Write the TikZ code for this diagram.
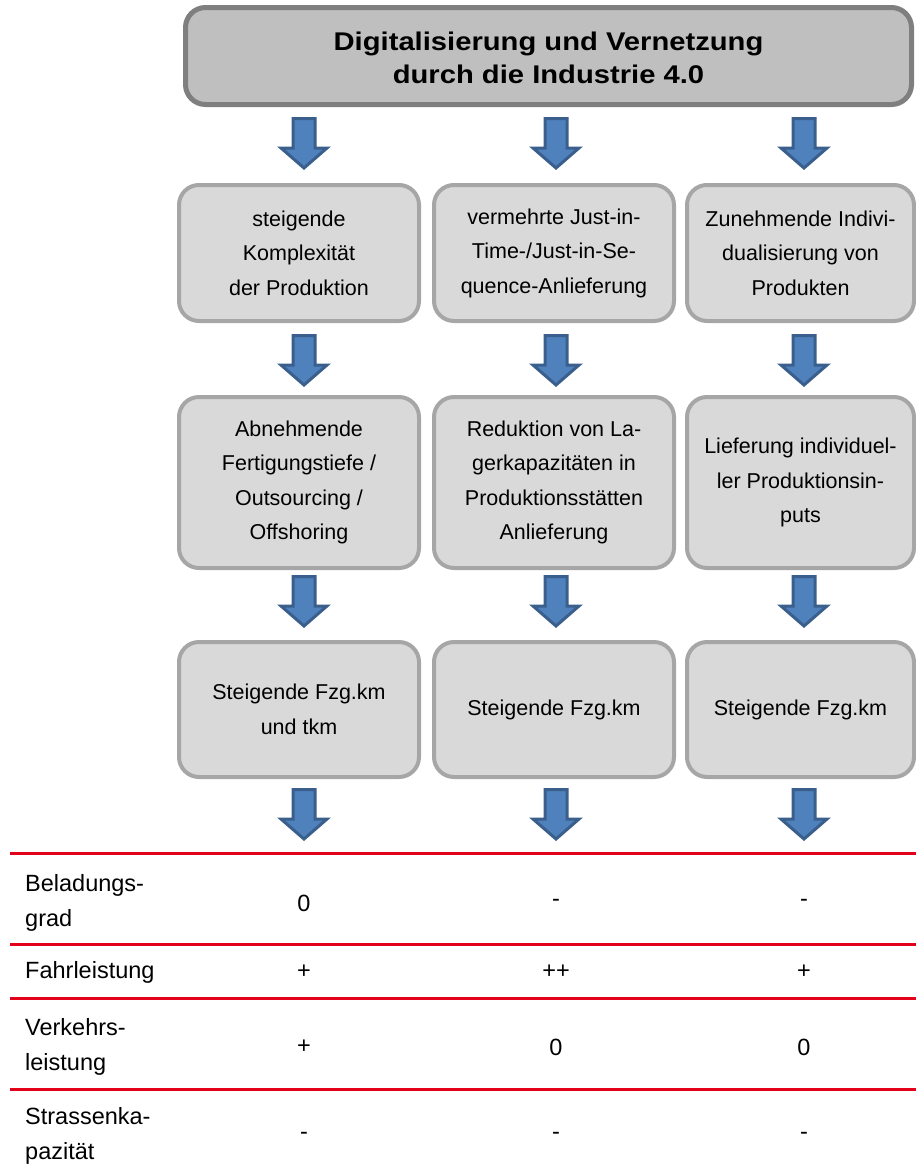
\documentclass[tikz,border=0pt]{standalone}
\usepackage{fontspec}
\setmainfont{Liberation Sans}
\usepackage{graphicx}
\definecolor{boxfill}{HTML}{D9D9D9}
\definecolor{boxline}{HTML}{A6A6A6}
\definecolor{topfill}{HTML}{BFBFBF}
\definecolor{topline}{HTML}{7F7F7F}
\definecolor{arrfill}{HTML}{4F81BD}
\definecolor{arrline}{HTML}{3A5F8C}
\definecolor{rulered}{HTML}{E2001A}
\tikzset{
  stepbox/.style={draw=boxline, fill=boxfill, line width=4pt, rounded corners=20pt,
    align=center, font=\fontsize{21.5}{34.5}\selectfont, inner sep=0pt},
  topbox/.style={draw=topline, fill=topfill, line width=5pt, rounded corners=20pt,
    align=center, font=\bfseries\fontsize{25.6}{33}\selectfont, inner sep=0pt},
  rowlabel/.style={anchor=west, align=left, inner sep=0pt, font=\fontsize{23.5}{35}\selectfont},
  cellval/.style={inner sep=0pt, font=\fontsize{23.5}{35}\selectfont},
  redrule/.style={draw=rulered, line width=3pt},
  blockarrow/.pic={\draw[line width=3pt, draw=arrline, fill=arrfill, line join=miter]
    (-11,1.5)--(11,1.5)--(11,31)--(23,31)--(0,51)--(-23,31)--(-11,31)--cycle;}
}
\begin{document}
\begin{tikzpicture}[x=1pt,y=-1pt]
\useasboundingbox (0,0) rectangle (916,1171);

% title
\node[topbox, minimum width=726pt, minimum height=97pt] (top) at (548.5,56)
  {\rule{0pt}{23pt}\scalebox{1.14}[1]{Digitalisierung und Vernetzung}\\\scalebox{1.14}[1]{durch die Industrie 4.0}};

% row 1
\node[stepbox, minimum width=240pt, minimum height=136pt] (b11) at (299,253)
  {steigende\\Komplexität\\der Produktion};
\node[stepbox, minimum width=240pt, minimum height=136pt] (b12) at (554,253)
  {vermehrte Just-in-\\Time-/Just-in-Se-\\quence-Anlieferung};
\node[stepbox, minimum width=227pt, minimum height=136pt] (b13) at (800.5,253)
  {Zunehmende Indivi-\\dualisierung von\\Produkten};

% row 2
\node[stepbox, minimum width=240pt, minimum height=171pt] (b21) at (299,482.5)
  {Abnehmende\\Fertigungstiefe /\\Outsourcing /\\Offshoring};
\node[stepbox, minimum width=240pt, minimum height=171pt] (b22) at (554,482.5)
  {Reduktion von La-\\gerkapazitäten in\\Produktionsstätten\\Anlieferung};
\node[stepbox, minimum width=227pt, minimum height=171pt] (b23) at (800.5,482.5)
  {Lieferung individuel-\\ler Produktionsin-\\puts};

% row 3
\node[stepbox, minimum width=240pt, minimum height=135pt] (b31) at (299,709.5)
  {Steigende Fzg.km\\und tkm};
\node[stepbox, minimum width=240pt, minimum height=135pt] (b32) at (554,709.5)
  {Steigende Fzg.km};
\node[stepbox, minimum width=227pt, minimum height=135pt] (b33) at (800.5,709.5)
  {Steigende Fzg.km};

% block arrows
\foreach \ax in {304,556,804}{
  \foreach \ay in {117,334,575,788}{
    \pic at (\ax,\ay) {blockarrow};
  }
}

% table rules
\foreach \ry in {853,944,998,1089}{
  \draw[redrule] (10,\ry) -- (916,\ry);
}

% table labels
\node[rowlabel] (l1) at (25,903) {Beladungs-\\grad};
\node[rowlabel] (l2) at (25,972) {Fahrleistung};
\node[rowlabel] (l3) at (25,1047) {Verkehrs-\\leistung};
\node[rowlabel] (l4) at (25,1136) {Strassenka-\\pazität};

% table values
\node[cellval] (v11) at (304,903) {0};
\node[cellval] (v12) at (556,903) {-};
\node[cellval] (v13) at (804,903) {-};
\node[cellval] (v21) at (304,972) {+};
\node[cellval] (v22) at (556,972) {++};
\node[cellval] (v23) at (804,972) {+};
\node[cellval] (v31) at (304,1047) {+};
\node[cellval] (v32) at (556,1047) {0};
\node[cellval] (v33) at (804,1047) {0};
\node[cellval] (v41) at (304,1136) {-};
\node[cellval] (v42) at (556,1136) {-};
\node[cellval] (v43) at (804,1136) {-};
\end{tikzpicture}
\end{document}
